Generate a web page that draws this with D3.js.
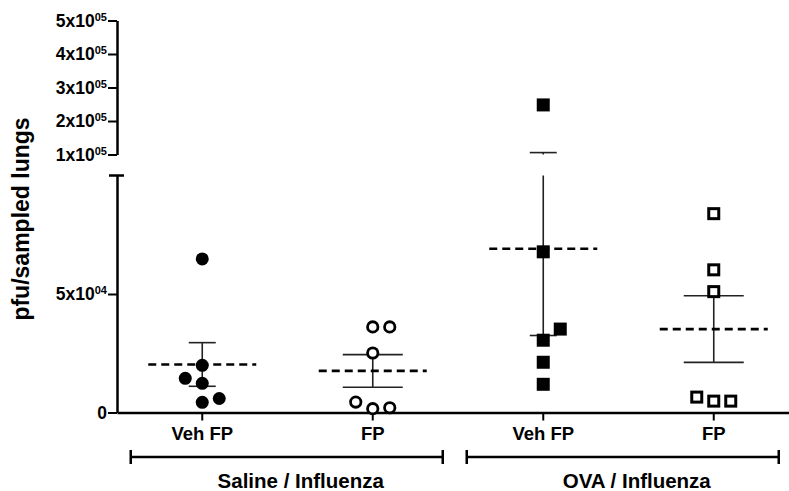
<!DOCTYPE html>
<html>
<head>
<meta charset="utf-8">
<script src="https://cdn.jsdelivr.net/npm/d3@7"></script>
<style>
  html, body { margin: 0; padding: 0; background: #fff; }
  svg text { font-family: "Liberation Sans", Arial, sans-serif; font-weight: bold; fill: #000; }
</style>
</head>
<body>
<svg id="chart" width="789" height="491"></svg>
<script>
// Infection groups and treatments along the x axis
const groups = ["Saline / Influenza", "OVA / Influenza"];
const treatments = ["Veh FP", "FP", "Veh FP", "FP"];

// Viral titre per mouse (pfu / sampled lungs)
const salineVehFP = [64800, 19900, 14400, 12300, 4300, 5900];
const salineFP    = [36100, 36100, 25100, 4400, 1600, 2000];
const ovaVehFP    = [248000, 67800, 35200, 30500, 21200, 11900];
const ovaFP       = [83900, 60200, 51000, 6500, 4800, 4800];

// Broken y axis: lower and upper segment ticks
const lowerTicks = [0, 50000];
const upperTicks = [100000, 200000, 300000, 400000, 500000];
const breakValue = 100000;

const series = [
  { id: "s-veh", group: 0, label: treatments[0], values: salineVehFP, shape: "circle", filled: true,  cap: 13.5 },
  { id: "s-fp",  group: 0, label: treatments[1], values: salineFP,    shape: "circle", filled: false, cap: 30 },
  { id: "o-veh", group: 1, label: treatments[2], values: ovaVehFP,    shape: "square", filled: true,  cap: 13.5 },
  { id: "o-fp",  group: 1, label: treatments[3], values: ovaFP,       shape: "square", filled: false, cap: 30 }
];

const svg = d3.select("#chart");
const axisX = 117;

// Scales
const x = d3.scaleBand().domain(series.map(s => s.id)).range([axisX, 799]).padding(0);
const cx = id => x(id) + x.bandwidth() / 2;
const yLow = d3.scaleLinear().domain([0, breakValue]).range([412.5, 175.5]);
const yHigh = d3.scaleLinear().domain([breakValue, 500000]).range([154.5, 20.5]);
const y = v => (v <= breakValue ? yLow(v) : yHigh(v));

// Tick label in the form 5x10^05
function sciLabel(textSel, v) {
  textSel.text(null);
  if (v === 0) { textSel.text("0"); return; }
  const exp = Math.floor(Math.log10(v));
  const mant = Math.round(v / Math.pow(10, exp));
  textSel.append("tspan").text(mant + "x10");
  textSel.append("tspan").attr("dy", "-6").attr("font-size", 11).text(String(exp).padStart(2, "0"));
}

function styleYAxis(g) {
  g.select(".domain").attr("stroke", "#000").attr("stroke-width", 2.5);
  g.selectAll(".tick line").attr("stroke", "#000").attr("stroke-width", 2);
  g.selectAll(".tick text")
    .attr("x", -10)
    .attr("dy", "0.32em")
    .attr("font-size", 17.5)
    .each(function (d) { sciLabel(d3.select(this), d); });
}

// Lower y segment
const gLow = svg.append("g").attr("transform", `translate(${axisX},0)`)
  .call(d3.axisLeft(yLow).tickValues(lowerTicks).tickSize(9).tickSizeOuter(0));
styleYAxis(gLow);
gLow.append("line")
  .attr("x1", -8).attr("x2", 7).attr("y1", yLow(breakValue)).attr("y2", yLow(breakValue))
  .attr("stroke", "#000").attr("stroke-width", 2.5);

// Upper y segment
const gHigh = svg.append("g").attr("transform", `translate(${axisX},0)`)
  .call(d3.axisLeft(yHigh).tickValues(upperTicks).tickSize(9).tickSizeOuter(0));
styleYAxis(gHigh);

// X axis
const gX = svg.append("g").attr("transform", `translate(0,${yLow(0)})`)
  .call(d3.axisBottom(x).tickSize(8).tickSizeOuter(0).tickFormat(id => series.find(s => s.id === id).label));
gX.select(".domain").attr("stroke", "#000").attr("stroke-width", 2.5);
gX.selectAll(".tick line").attr("stroke", "#000").attr("stroke-width", 2);
gX.selectAll(".tick text").attr("y", 27).attr("dy", 0).attr("font-size", 18.5);

// Y axis title
svg.append("text")
  .attr("transform", "translate(29,219) rotate(-90)")
  .attr("text-anchor", "middle")
  .attr("font-size", 23)
  .text("pfu/sampled lungs");

// Group brackets below the treatments
const bracketY = 457;
const bracketLayout = [{ nudge: 0 }, { nudge: -5 }];
groups.forEach((name, gi) => {
  const ids = series.filter(s => s.group === gi).map(s => s.id);
  const x0 = cx(ids[0]) - 71.5 + bracketLayout[gi].nudge;
  const x1 = cx(ids[ids.length - 1]) + 70 + bracketLayout[gi].nudge;
  const g = svg.append("g");
  g.append("path")
    .attr("d", `M${x0},${bracketY - 7}V${bracketY + 7}M${x0},${bracketY}H${x1}M${x1},${bracketY - 7}V${bracketY + 7}`)
    .attr("fill", "none").attr("stroke", "#000").attr("stroke-width", 2.5);
  g.append("text")
    .attr("x", (x0 + x1) / 2 + 14).attr("y", 488)
    .attr("text-anchor", "middle").attr("font-size", 20.5)
    .text(name);
});

// Horizontal spreading of overlapping points, alternating sides
function spread(values, step, minGap) {
  const order = values.map((v, i) => ({ v, i, py: y(v) })).sort((a, b) => a.v - b.v);
  const placed = [];
  let side = 1;
  order.forEach(p => {
    const hits = slot => placed.some(q => q.slot === slot && Math.abs(q.py - p.py) < minGap);
    let slot = 0;
    if (hits(0)) {
      let k = 1;
      while (true) {
        if (!hits(side * k)) { slot = side * k; break; }
        if (!hits(-side * k)) { slot = -side * k; break; }
        k++;
      }
      side = -side;
    }
    placed.push({ ...p, slot, dx: slot * step });
  });
  return placed;
}

series.forEach(s => {
  const c = cx(s.id);
  const m = d3.mean(s.values);
  const sem = d3.deviation(s.values) / Math.sqrt(s.values.length);
  const lo = m - sem, hi = m + sem;
  const g = svg.append("g");

  // SEM bar, split across the axis break when needed
  const segs = hi > breakValue
    ? [[yLow(lo), yLow(breakValue)], [yHigh(breakValue), yHigh(hi)]]
    : [[y(lo), y(hi)]];
  segs.forEach(([a, b]) => g.append("line")
    .attr("x1", c).attr("x2", c).attr("y1", a).attr("y2", b)
    .attr("stroke", "#222").attr("stroke-width", 1.6));
  [lo, hi].forEach(v => g.append("line")
    .attr("x1", c - s.cap).attr("x2", c + s.cap).attr("y1", y(v)).attr("y2", y(v))
    .attr("stroke", "#222").attr("stroke-width", 1.6));

  // Mean
  g.append("line")
    .attr("x1", c - 54).attr("x2", c + 54).attr("y1", y(m)).attr("y2", y(m))
    .attr("stroke", "#000").attr("stroke-width", 2.6).attr("stroke-dasharray", "8,5");

  // Individual animals
  const pts = spread(s.values, 17, 13.5);
  pts.forEach(p => {
    const px = c + p.dx, py = p.py;
    if (s.shape === "circle") {
      g.append("circle")
        .attr("cx", px).attr("cy", py)
        .attr("r", s.filled ? 6.5 : 5.2)
        .attr("fill", s.filled ? "#000" : "#fff")
        .attr("stroke", "#000").attr("stroke-width", s.filled ? 0 : 2.8);
    } else {
      const size = s.filled ? 13 : 10;
      g.append("rect")
        .attr("x", px - size / 2).attr("y", py - size / 2)
        .attr("width", size).attr("height", size)
        .attr("fill", s.filled ? "#000" : "#fff")
        .attr("stroke", "#000").attr("stroke-width", s.filled ? 0 : 3);
    }
  });
});
</script>
</body>
</html>
